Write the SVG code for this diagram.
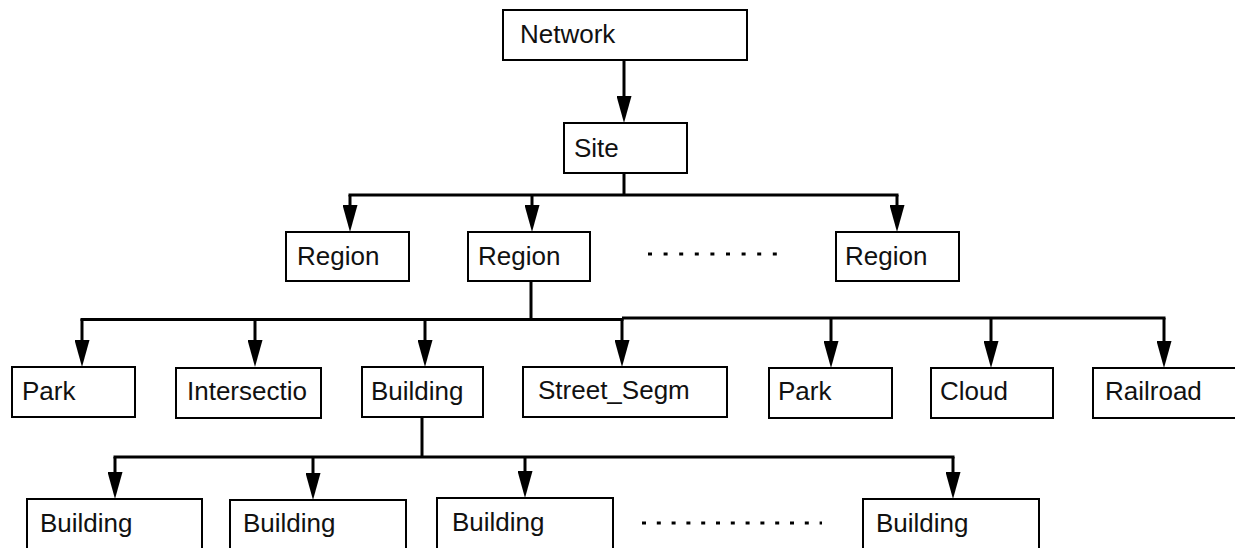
<svg xmlns="http://www.w3.org/2000/svg" width="1235" height="548" viewBox="0 0 1235 548">
  <style>
    .box { fill: #ffffff; stroke: #000000; stroke-width: 2; }
    .label { font-family: "Liberation Sans", Arial, sans-serif; font-size: 26px; fill: #111111; }
    .wire { fill: none; stroke: #000000; stroke-width: 3; }
    .arrow { fill: none; stroke: #000000; stroke-width: 3; marker-end: url(#head); }
    .dots { fill: none; stroke: #000000; stroke-width: 3; }
  </style>
  <defs>
    <marker id="head" markerUnits="userSpaceOnUse" markerWidth="28" markerHeight="15" refX="19" refY="7.5" orient="auto">
      <path d="M0,0 L27,7.5 L0,15 z" fill="#000000"/>
    </marker>
  </defs>
  <rect width="1235" height="548" fill="#ffffff"/>

  <!-- connectors -->
  <g id="connectors">
    <!-- Network to Site -->
    <line class="arrow" x1="624" y1="60" x2="624" y2="115"/>
    <!-- Site to regions -->
    <line class="wire" x1="624" y1="173" x2="624" y2="195"/>
    <line class="wire" x1="348.5" y1="195" x2="898.5" y2="195"/>
    <line class="arrow" x1="350" y1="195" x2="350" y2="224"/>
    <line class="arrow" x1="532" y1="195" x2="532" y2="224"/>
    <line class="arrow" x1="897" y1="195" x2="897" y2="224"/>
    <!-- Region to features -->
    <line class="wire" x1="531" y1="281" x2="531" y2="319.5"/>
    <line class="wire" x1="80.5" y1="319.5" x2="623.5" y2="319.5"/>
    <line class="wire" x1="622" y1="318" x2="1165.5" y2="318"/>
    <line class="arrow" x1="82" y1="319" x2="82" y2="359"/>
    <line class="arrow" x1="255" y1="319" x2="255" y2="359"/>
    <line class="arrow" x1="425" y1="319" x2="425" y2="359"/>
    <line class="arrow" x1="622" y1="318" x2="622" y2="359"/>
    <line class="arrow" x1="831" y1="318" x2="831" y2="360"/>
    <line class="arrow" x1="991" y1="318" x2="991" y2="360"/>
    <line class="arrow" x1="1164" y1="318" x2="1164" y2="360"/>
    <!-- Building to buildings -->
    <line class="wire" x1="422" y1="417" x2="422" y2="457"/>
    <line class="wire" x1="113.5" y1="457" x2="954.5" y2="457"/>
    <line class="arrow" x1="115" y1="457" x2="115" y2="491"/>
    <line class="arrow" x1="313" y1="457" x2="313" y2="492"/>
    <line class="arrow" x1="525" y1="457" x2="525" y2="490"/>
    <line class="arrow" x1="953" y1="457" x2="953" y2="491"/>
    <!-- continuation marks -->
    <line class="dots" x1="648" y1="254" x2="777" y2="254" stroke-dasharray="4 11.6"/>
    <line class="dots" x1="642" y1="523" x2="822" y2="523" stroke-dasharray="4 10.8"/>
  </g>

  <g id="network">
    <rect class="box" x="503" y="10" width="244" height="50"/>
    <text class="label" x="520" y="43">Network</text>
  </g>
  <g id="site">
    <rect class="box" x="564" y="123" width="123" height="50"/>
    <text class="label" x="574" y="157">Site</text>
  </g>

  <g id="region-1">
    <rect class="box" x="286" y="232" width="123" height="49"/>
    <text class="label" x="297" y="265">Region</text>
  </g>
  <g id="region-2">
    <rect class="box" x="468" y="232" width="122" height="49"/>
    <text class="label" x="478" y="265">Region</text>
  </g>
  <g id="region-3">
    <rect class="box" x="836" y="232" width="123" height="49"/>
    <text class="label" x="845" y="265">Region</text>
  </g>

  <g id="park-1">
    <rect class="box" x="12" y="367" width="123" height="50"/>
    <text class="label" x="22" y="400">Park</text>
  </g>
  <g id="intersection">
    <rect class="box" x="176" y="368" width="145" height="50"/>
    <text class="label" x="187" y="400">Intersectio</text>
  </g>
  <g id="building">
    <rect class="box" x="362" y="367" width="121" height="50"/>
    <text class="label" x="371" y="400">Building</text>
  </g>
  <g id="street-segment">
    <rect class="box" x="523" y="367" width="204" height="50"/>
    <text class="label" x="538" y="399">Street_Segm</text>
  </g>
  <g id="park-2">
    <rect class="box" x="769" y="368" width="123" height="50"/>
    <text class="label" x="778" y="400">Park</text>
  </g>
  <g id="cloud">
    <rect class="box" x="931" y="368" width="122" height="50"/>
    <text class="label" x="940" y="400">Cloud</text>
  </g>
  <g id="railroad">
    <rect class="box" x="1093" y="368" width="150" height="50"/>
    <text class="label" x="1105" y="400">Railroad</text>
  </g>

  <g id="building-1">
    <rect class="box" x="27" y="499" width="175" height="70"/>
    <text class="label" x="40" y="532">Building</text>
  </g>
  <g id="building-2">
    <rect class="box" x="230" y="500" width="176" height="70"/>
    <text class="label" x="243" y="532">Building</text>
  </g>
  <g id="building-3">
    <rect class="box" x="437" y="498" width="176" height="70"/>
    <text class="label" x="452" y="531">Building</text>
  </g>
  <g id="building-4">
    <rect class="box" x="863" y="499" width="176" height="70"/>
    <text class="label" x="876" y="532">Building</text>
  </g>
</svg>
